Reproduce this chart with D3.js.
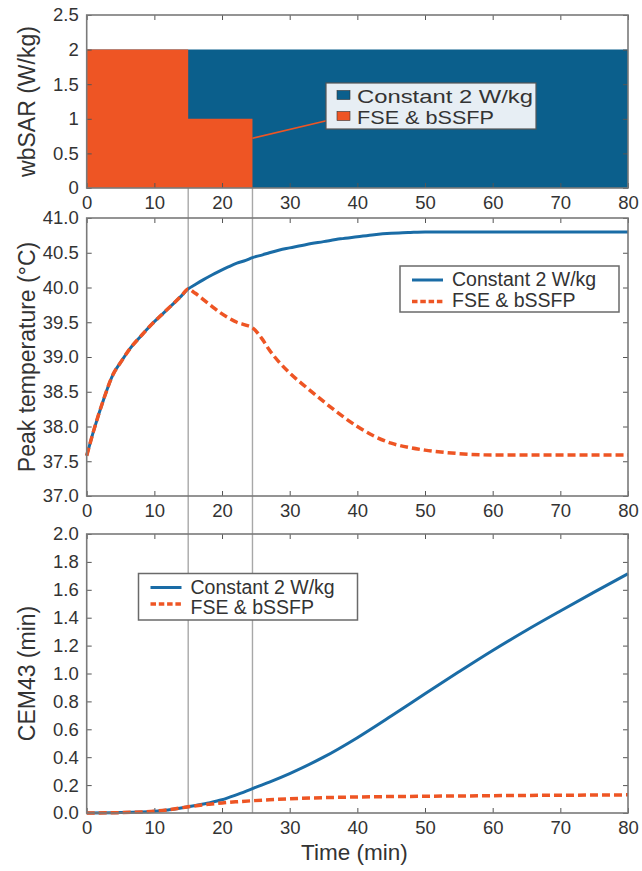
<!DOCTYPE html>
<html>
<head>
<meta charset="utf-8">
<script src="https://cdn.jsdelivr.net/npm/d3@7/dist/d3.min.js"></script>
<style>
  html, body { margin: 0; padding: 0; background: #fff; }
  svg { display: block; font-family: "Liberation Sans", Arial, Helvetica, sans-serif; }
</style>
</head>
<body>
<svg id="chart" width="642" height="871"></svg>
<script>
// ---------------- data ----------------
const seriesNames = ["Constant 2 W/kg", "FSE & bSSFP"];
const xTicks = [0, 10, 20, 30, 40, 50, 60, 70, 80];
const sarTicks = [0, 0.5, 1, 1.5, 2, 2.5];
const tempTicks = [37, 37.5, 38, 38.5, 39, 39.5, 40, 40.5, 41];
const cemTicks = [0, 0.2, 0.4, 0.6, 0.8, 1.0, 1.2, 1.4, 1.6, 1.8, 2.0];
const markerTimes = [15, 24.5];

// wbSAR step profiles
const sarTimes = [0, 15, 24.5, 80];
const sarConstant = [2, 2, 2, 2];
const sarFse = [2, 1, 0, 0];

// Peak temperature (°C)
const tempTimes = [0, 1, 2.5, 3.9, 5, 6.4, 8, 9.4, 11, 12.4, 14, 15, 16, 17.2, 18.5, 19.7, 21, 22.2, 23.5, 24.5,
                   26, 27, 28.5, 30, 32.5, 35, 37.5, 40, 42.5, 45, 47.5, 50, 55, 60, 70, 80];
const tempConstant = [37.58, 37.93, 38.39, 38.75, 38.92, 39.12, 39.3, 39.45, 39.6, 39.73, 39.88, 39.98, 40.04, 40.11, 40.18, 40.24, 40.3, 40.35, 40.39, 40.43,
                      40.47, 40.5, 40.54, 40.57, 40.62, 40.66, 40.7, 40.73, 40.76, 40.78, 40.79, 40.8, 40.8, 40.8, 40.8, 40.8];
const tempFse = [37.58, 37.93, 38.39, 38.75, 38.92, 39.12, 39.3, 39.45, 39.6, 39.73, 39.88, 39.98, 39.92, 39.83, 39.73, 39.64, 39.56, 39.5, 39.46, 39.42,
                 39.25, 39.1, 38.92, 38.77, 38.56, 38.36, 38.17, 38.0, 37.86, 37.76, 37.7, 37.66, 37.61, 37.59, 37.59, 37.59];

// CEM43 (min)
const cemTimes = [0, 5, 10, 12, 15, 18, 20, 22, 24.5, 27, 30, 35, 40, 45, 50, 55, 60, 65, 70, 75, 80];
const cemConstant = [0, 0.003, 0.013, 0.022, 0.045, 0.072, 0.095, 0.128, 0.175, 0.222, 0.283, 0.4, 0.54, 0.695, 0.855, 1.012, 1.165, 1.31, 1.448, 1.583, 1.715];
const cemFse = [0, 0.003, 0.013, 0.022, 0.045, 0.062, 0.072, 0.08, 0.088, 0.095, 0.102, 0.11, 0.115, 0.118, 0.12, 0.122, 0.124, 0.126, 0.127, 0.129, 0.13];

// ---------------- styles ----------------
const BLUE_AREA = "#0b5f8c";
const BLUE = "#1a6ca6";
const ORANGE = "#ee5524";
const TEXT = "#333";
const BORDER = "#7a7a7a";

const svg = d3.select("#chart");
const x = d3.scaleLinear().domain([0, 80]).range([86.7, 628]);
const L = x.range()[0], R = x.range()[1];

const panels = [
  { key: "sar", y: d3.scaleLinear().domain([0, 2.5]).range([188, 15]), ticks: sarTicks, fmt: d => String(d), label: "wbSAR (W/kg)" },
  { key: "temp", y: d3.scaleLinear().domain([37, 41]).range([496, 218]), ticks: tempTicks, fmt: d3.format(".1f"), label: "Peak temperature (°C)" },
  { key: "cem", y: d3.scaleLinear().domain([0, 2]).range([813, 534]), ticks: cemTicks, fmt: d3.format(".1f"), label: "CEM43 (min)" }
];
const [pS, pT, pC] = panels;

// ---------- top panel areas ----------
const sarRows = sarTimes.map((t, i) => ({ t, c: sarConstant[i], f: sarFse[i] }));
const areaC = d3.area().curve(d3.curveStepAfter).x(d => x(d.t)).y0(pS.y(0)).y1(d => pS.y(d.c));
const areaF = d3.area().curve(d3.curveStepAfter).x(d => x(d.t)).y0(pS.y(0)).y1(d => pS.y(d.f));
svg.append("path").datum(sarRows).attr("d", areaC).attr("fill", BLUE_AREA);
svg.append("path").datum(sarRows).attr("d", areaF).attr("fill", ORANGE);

// ---------- vertical marker lines ----------
svg.selectAll("line.marker").data(markerTimes).join("line")
  .attr("class", "marker")
  .attr("x1", d => x(d)).attr("x2", d => x(d))
  .attr("y1", pS.y(0)).attr("y2", pC.y(0))
  .attr("stroke", "#a8a8a8").attr("stroke-width", 1.4);

// ---------- axes ----------
panels.forEach(p => {
  const g = svg.append("g");
  const yl = g.append("g").attr("transform", `translate(${L},0)`)
    .call(d3.axisLeft(p.y).tickValues(p.ticks).tickFormat(p.fmt).tickSizeInner(-5).tickSizeOuter(0).tickPadding(8));
  const yr = g.append("g").attr("transform", `translate(${R},0)`)
    .call(d3.axisRight(p.y).tickValues(p.ticks).tickFormat("").tickSizeInner(-5).tickSizeOuter(0));
  const xb = g.append("g").attr("transform", `translate(0,${p.y.range()[0]})`)
    .call(d3.axisBottom(x).tickValues(xTicks).tickFormat(d3.format("d")).tickSizeInner(-5).tickSizeOuter(0).tickPadding(8));
  const xt = g.append("g").attr("transform", `translate(0,${p.y.range()[1]})`)
    .call(d3.axisTop(x).tickValues(xTicks).tickFormat("").tickSizeInner(-5).tickSizeOuter(0));
  [yl, yr, xb, xt].forEach(a => {
    a.select(".domain").remove();
    a.selectAll(".tick line").attr("stroke", "#555").attr("stroke-width", 1);
    a.selectAll(".tick text").attr("fill", TEXT).style("font-size", "18.5px").style("font-family", "'Liberation Sans', Arial, sans-serif");
  });
  const cy = (p.y.range()[0] + p.y.range()[1]) / 2;
  svg.append("text")
    .attr("transform", `translate(35,${cy}) rotate(-90)`)
    .attr("text-anchor", "middle")
    .attr("fill", TEXT).style("font-size", "23px")
    .text(p.label);
});

// ---------- line series ----------
function drawLines(p, times, a, b) {
  const rows = times.map((t, i) => ({ t, a: a[i], b: b[i] }));
  const la = d3.line().curve(d3.curveMonotoneX).x(d => x(d.t)).y(d => p.y(d.a));
  const lb = d3.line().curve(d3.curveMonotoneX).x(d => x(d.t)).y(d => p.y(d.b));
  svg.append("path").datum(rows).attr("d", la).attr("fill", "none")
    .attr("stroke", BLUE).attr("stroke-width", 3);
  svg.append("path").datum(rows).attr("d", lb).attr("fill", "none")
    .attr("stroke", ORANGE).attr("stroke-width", 3.5).attr("stroke-dasharray", "8,4");
}
drawLines(pT, tempTimes, tempConstant, tempFse);
drawLines(pC, cemTimes, cemConstant, cemFse);

// ---------- frames ----------
panels.forEach(p => {
  svg.append("rect")
    .attr("x", L).attr("y", p.y.range()[1])
    .attr("width", R - L).attr("height", p.y.range()[0] - p.y.range()[1])
    .attr("fill", "none").attr("stroke", BORDER).attr("stroke-width", 1.6);
});

// ---------- x title ----------
svg.append("text").attr("x", (L + R) / 2 - 3).attr("y", 860)
  .attr("text-anchor", "middle").attr("fill", TEXT).style("font-size", "22.5px")
  .text("Time (min)");

// ---------- top legend (patches) ----------
const lg1 = svg.append("g");
lg1.append("line")
  .attr("x1", x(24.5)).attr("y1", pS.y(0.72))
  .attr("x2", 338).attr("y2", 118)
  .attr("stroke", ORANGE).attr("stroke-width", 1.6);
lg1.append("rect").attr("x", 326).attr("y", 83).attr("width", 210).attr("height", 46)
  .attr("fill", "#e7eef4").attr("stroke", "#555").attr("stroke-width", 1.2);
[BLUE_AREA, ORANGE].forEach((c, i) => {
  lg1.append("rect").attr("x", 337).attr("y", 90.5 + i * 21).attr("width", 13).attr("height", 9)
    .attr("fill", c).attr("stroke", "#333").attr("stroke-width", 0.6);
  lg1.append("text").attr("x", 357).attr("y", 102.5 + i * 21)
    .attr("fill", TEXT).style("font-size", "19px")
    .attr("textLength", i === 0 ? 176 : 137).attr("lengthAdjust", "spacingAndGlyphs")
    .text(seriesNames[i]);
});

// ---------- line legends ----------
function lineLegend(bx, by, bw, bh, ly, ty) {
  const g = svg.append("g");
  g.append("rect").attr("x", bx).attr("y", by).attr("width", bw).attr("height", bh)
    .attr("fill", "#fff").attr("stroke", "#6a6a6a").attr("stroke-width", 1.5);
  [0, 1].forEach(i => {
    g.append("line").attr("x1", bx + 12).attr("x2", bx + 43).attr("y1", by + ly[i]).attr("y2", by + ly[i])
      .attr("stroke", i === 0 ? BLUE : ORANGE)
      .attr("stroke-width", i === 0 ? 3 : 3.5)
      .attr("stroke-dasharray", i === 0 ? null : "5.5,2.8");
    g.append("text").attr("x", bx + 52).attr("y", by + ty[i])
      .attr("fill", TEXT).style("font-size", "19.5px").text(seriesNames[i]);
  });
}
lineLegend(400, 266, 219, 46, [14, 35.5], [20.3, 41]);
lineLegend(138.5, 573.5, 219, 46.5, [14, 30.5], [20, 40]);
</script>
</body>
</html>
